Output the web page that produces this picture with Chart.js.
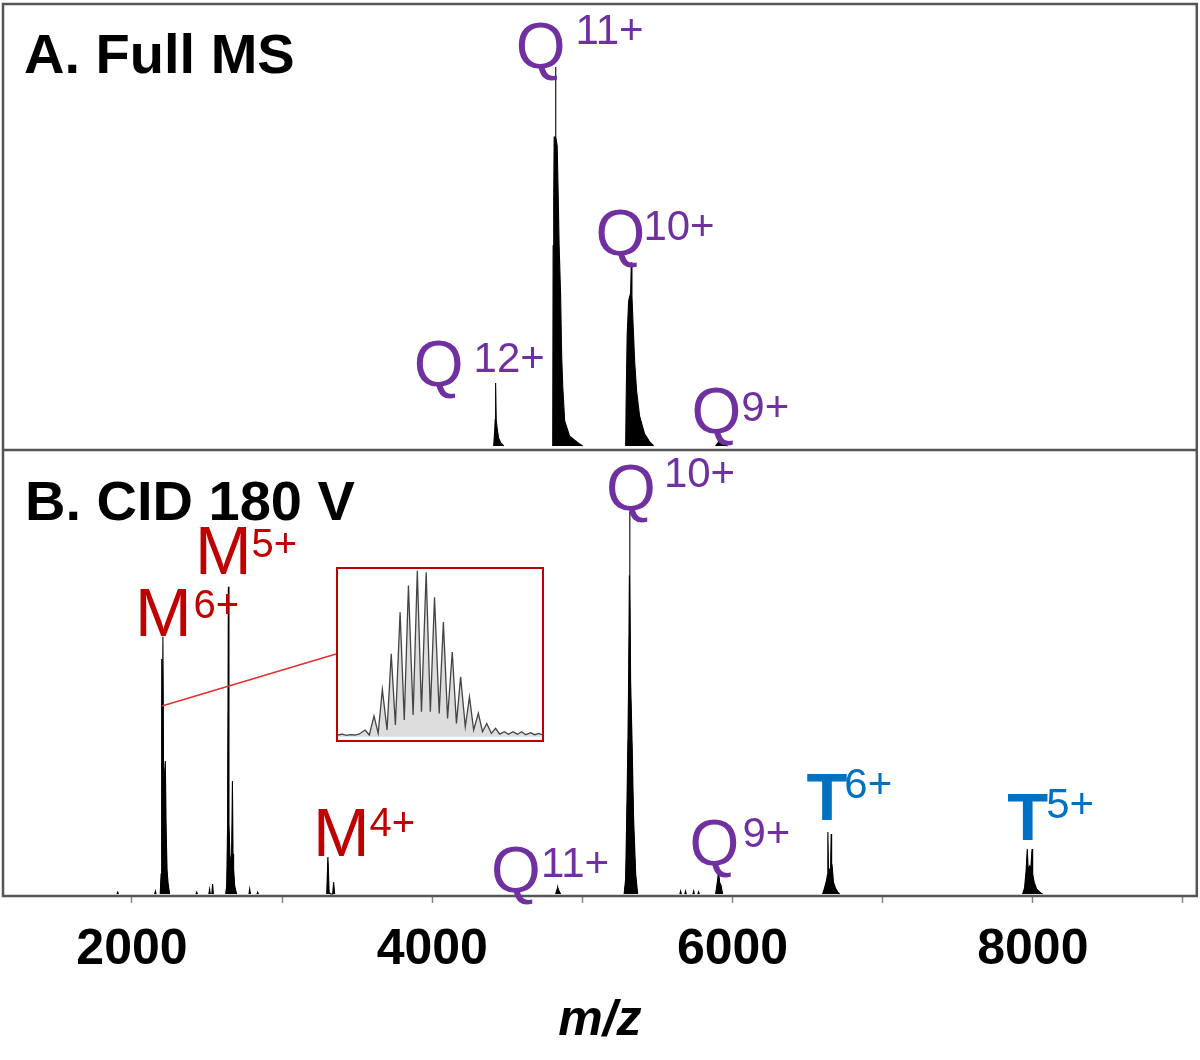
<!DOCTYPE html>
<html>
<head>
<meta charset="utf-8">
<script src="https://cdn.jsdelivr.net/npm/chart.js@4.4.1/dist/chart.umd.min.js"></script>
<style>
  body { margin: 0; background: #fff; }
  #wrap { position: relative; width: 1200px; height: 1060px; }
  #inset { position: absolute; left: 336px; top: 567px; width: 204px; height: 171px;
           border: 2px solid #c00000; background: #fff; }
</style>
</head>
<body>
<div id="wrap">
  <canvas id="ms" width="1200" height="1060"></canvas>
  <div id="inset"><canvas id="iso" width="204" height="171"></canvas></div>
</div>
<script>
// panel A, full MS: [m/z, relative intensity]
const fullQ12 = [[4409,0],[4416,4.0],[4419,6.9],[4422,16.6],[4426,6.9],[4432,4.7],[4442,2.1],[4456,0.8],[4476,0]]
const fullQ11 = [[4802,0],[4805,52.8],[4809,65.7],[4812,81.5],[4821,81.5],[4822,100],[4823,81.5],[4832,79.2],
                 [4839,65.7],[4845,52.8],[4855,39.6],[4862,23.7],[4869,15.8],[4882,6.6],[4915,2.6],[4982,0.5],[5002,0]]
const fullQ10 = [[5288,0],[5291,10.6],[5298,29],[5308,38.3],[5321,40.4],[5326,48.5],[5330,39.6],[5338,31.7],
                 [5348,22.4],[5361,14.5],[5381,7.9],[5414,3.2],[5448,1.1],[5475,0]]
const fullQ9 = [[5887,0],[5901,0.8],[5914,1.6],[5927,1.1],[5947,0.3],[5967,0]]

// panel B, CID 180 V
const cidM6 = [[2188,0],[2194,5.2],[2198,61.5],[2201,31.4],[2206,67.3],[2211,26.2],[2222,34.8],[2228,15.7],[2234,6.0],[2241,2.6],[2251,0]]
const cidM5 = [[2624,0],[2631,2.1],[2637,18.3],[2642,80.4],[2646,18.3],[2654,7.9],[2664,10.5],[2669,29.6],[2673,10.5],[2677,6.5],[2684,2.1],[2697,0]]
const cidM4 = [[3297,0],[3305,9.7],[3313,0.5],[3323,0],[3337,0],[3343,3.1],[3350,0]]
const cidQ11 = [[4822,0],[4832,1.3],[4835,1.8],[4842,1.0],[4855,0]]
const cidQ10 = [[5278,0],[5288,3.9],[5295,19.6],[5303,39.3],[5308,55.8],[5313,83.2],[5315,100],[5317,83.2],
                [5321,55.8],[5331,39.3],[5341,19.6],[5355,5.2],[5368,0]]
const cidQ9 = [[5887,0],[5897,2.6],[5907,5.8],[5914,3.1],[5924,2.1],[5934,0]]
const cidT6 = [[6600,0],[6613,1.6],[6627,3.7],[6632,5],[6635,16.2],[6639,5.8],[6646,6.5],[6653,6],[6657,15.7],
               [6660,6.5],[6664,7.1],[6672,3.1],[6685,1.6],[6700,0.5],[6713,0]]
const cidT5 = [[7932,0],[7945,1.6],[7955,6.0],[7963,11.8],[7969,6.5],[7979,7.3],[7985,5.8],[7995,11.8],
               [7999,5.2],[8009,3.1],[8025,1.3],[8052,0.3],[8065,0]]
// small sticks in panel B
const minorMz = [1905, 2156, 2431, 2517, 2537, 2784, 2837, 5654, 5687, 5741, 5774]
const minorInt = [0.5, 0.8, 0.5, 1.3, 2.6, 1.3, 0.5, 0.8, 0.8, 0.8, 0.6]

// inset: isotope cluster of M6+
const isoMz = [2204.00,2204.17,2204.33,2204.50,2204.67,2204.83,2205.00,2205.17,2205.33,2205.50,2205.67,
               2205.83,2206.00,2206.17,2206.33,2206.50,2206.67,2206.83,2207.00,2207.17,2207.33]
const isoInt = [4,12.5,28.5,50,75,91,100,99,84,69,51,36,24,14,8,5,3,3,3,2.4,2]
const isoValleyMz = [2204.08,2204.25,2204.42,2204.58,2204.75,2204.92,2205.08,2205.25,2205.42,2205.58,
                     2205.75,2205.92,2206.08,2206.25,2206.42,2206.58,2206.75,2206.92,2207.08,2207.25]
const isoValley = [1,2,4,7,10,13,15,15,14,11,8,6,4,3,2,1.5,1.5,1.5,1.2,1.2]
const isoLeadMz = [2203.48,2203.56,2203.64,2203.72,2203.80,2203.88]
const isoLead = [1,1.5,0.8,1.2,1,1.5]
const isoTailMz = [2207.39]
const isoTail = [1.2]

const xTickValues = [2000, 3000, 4000, 5000, 6000, 7000, 8000, 9000]
const xTickLabels = [2000, 4000, 6000, 8000]

const purple = '#7030a0', red = '#c00000', blue = '#0070c0'
const FONT = "'Liberation Sans', Arial, sans-serif"

// label anchors: main letter origin (m/z, intensity); sup offset in px
const peakLabels = [
    {axis:'yA', ion:'Q', z:'12+', mz:3877, at:15.7, dx:10, dy:-14},
    {axis:'yA', ion:'Q', z:'11+', mz:4556, at:99.6, dx:10, dy:-24},
    {axis:'yA', ion:'Q', z:'10+', mz:5088, at:50.5, dx:-2, dy:-15},
    {axis:'yA', ion:'Q', z:'9+', mz:5727, at:3.3, dx:0, dy:-12},
    {axis:'yB', ion:'Q', z:'10+', mz:5158, at:100.6, dx:8, dy:-23},
    {axis:'yB', ion:'Q', z:'11+', mz:4392, at:0.6, dx:0, dy:-15},
    {axis:'yB', ion:'Q', z:'9+', mz:5714, at:7.7, dx:3, dy:-18},
    {axis:'yB', ion:'M', z:'6+', mz:2020, at:67.4, dx:2, dy:-18},
    {axis:'yB', ion:'M', z:'5+', mz:2419, at:83.8, dx:0, dy:-17},
    {axis:'yB', ion:'M', z:'4+', mz:3205, at:10.0, dx:0, dy:-20},
    {axis:'yB', ion:'T', z:'6+', mz:6492, at:19.4, dx:-3, dy:-22},
    {axis:'yB', ion:'T', z:'5+', mz:7830, at:14.1, dx:-2, dy:-22}
]
const ionStyle = {
    Q: {color: purple, font: '64px ' + FONT, sup: '42px ' + FONT},
    M: {color: red, font: '68px ' + FONT, sup: '40px ' + FONT},
    T: {color: blue, font: 'bold 67px ' + FONT, sup: '42px ' + FONT}
}

function joinPeaks(list) {
    const out = []
    list.forEach(function (p, i) {
        if (i) out.push({x: p[0][0], y: null})
        p.forEach(function (pt) { out.push({x: pt[0], y: pt[1]}) })
    })
    return out
}

const minorPeaks = minorMz.map(function (m, i) { return [[m - 5, 0], [m, minorInt[i]], [m + 5, 0]] })

const specStyle = {
    borderColor: '#000', backgroundColor: '#000', borderWidth: 1.1,
    pointRadius: 0, fill: 'origin', tension: 0, spanGaps: false
}

const overlay = {
    id: 'overlay',
    afterDatasetsDraw(chart) {
        const ctx = chart.ctx, a = chart.chartArea, s = chart.scales
        ctx.save()
        // frame and panel divider
        ctx.strokeStyle = '#555'
        ctx.lineWidth = 2.5
        ctx.strokeRect(a.left, a.top, a.right - a.left, a.bottom - a.top)
        ctx.beginPath()
        ctx.moveTo(a.left, s.yA.bottom)
        ctx.lineTo(a.right, s.yA.bottom)
        ctx.stroke()

        // connector to inset
        ctx.strokeStyle = '#e03030'
        ctx.lineWidth = 1.5
        ctx.beginPath()
        ctx.moveTo(s.x.getPixelForValue(2200), s.yB.getPixelForValue(49.2))
        ctx.lineTo(336, 654)
        ctx.stroke()

        // panel titles
        ctx.fillStyle = '#000'
        ctx.font = 'bold 56px ' + FONT
        ctx.textBaseline = 'alphabetic'
        ctx.fillText('A. Full MS', a.left + 21, s.yA.top + 69)
        ctx.fillText('B. CID 180 V', a.left + 22, s.yB.top + 70)

        // peak labels
        peakLabels.forEach(function (l) {
            const st = ionStyle[l.ion]
            const x = s.x.getPixelForValue(l.mz)
            const y = s[l.axis].getPixelForValue(l.at)
            ctx.fillStyle = st.color
            ctx.font = st.font
            ctx.fillText(l.ion, x, y)
            const w = ctx.measureText(l.ion).width
            ctx.font = st.sup
            ctx.fillText(l.z, x + w + l.dx, y + l.dy)
        })
        ctx.restore()
    }
}

new Chart(document.getElementById('ms'), {
    type: 'line',
    data: {
        datasets: [
            Object.assign({data: joinPeaks([fullQ12, fullQ11, fullQ10, fullQ9]), yAxisID: 'yA'}, specStyle),
            Object.assign({data: joinPeaks([cidM6, cidM5, cidM4, cidQ11, cidQ10, cidQ9, cidT6, cidT5].concat(minorPeaks)), yAxisID: 'yB'}, specStyle)
        ]
    },
    options: {
        responsive: false,
        animation: false,
        layout: {padding: {left: 3, right: 3, top: 4, bottom: 16}},
        plugins: {legend: {display: false}, tooltip: {enabled: false}},
        scales: {
            x: {
                type: 'linear', min: 1141, max: 9092,
                afterBuildTicks: function (scale) {
                    scale.ticks = xTickValues.map(function (v) { return {value: v} })
                },
                ticks: {
                    autoSkip: false, maxRotation: 0, padding: 17, color: '#000',
                    font: {family: FONT, size: 50, weight: 'bold'},
                    callback: function (v) { return xTickLabels.includes(v) ? String(v) : '' }
                },
                grid: {drawOnChartArea: false, drawTicks: true, tickLength: 7, tickColor: '#888', tickWidth: 1.5},
                border: {display: false},
                title: {display: true, text: 'm/z', color: '#000', padding: {top: 2, bottom: 0},
                        font: {family: FONT, size: 50, weight: 'bold', style: 'italic', lineHeight: 0.9}}
            },
            yA: {type: 'linear', position: 'left', stack: 'ms', stackWeight: 1, weight: 2,
                 min: -1.06, max: 116.6, display: false},
            yB: {type: 'linear', position: 'left', stack: 'ms', stackWeight: 1, weight: 1,
                 min: -0.52, max: 116.2, display: false}
        }
    },
    plugins: [overlay]
})

// inset chart
const isoData = []
isoLeadMz.forEach(function (m, i) { isoData.push({x: m, y: isoLead[i]}) })
isoMz.forEach(function (m, i) {
    isoData.push({x: m, y: isoInt[i]})
    if (i < isoValley.length) isoData.push({x: isoValleyMz[i], y: isoValley[i]})
})
isoTailMz.forEach(function (m, i) { isoData.push({x: m, y: isoTail[i]}) })

new Chart(document.getElementById('iso'), {
    type: 'line',
    data: {datasets: [{data: isoData, borderColor: '#444', backgroundColor: 'rgba(120,120,120,0.25)',
                       borderWidth: 1.3, pointRadius: 0, fill: 'origin', tension: 0}]},
    options: {
        responsive: false,
        animation: false,
        layout: {padding: 0},
        plugins: {legend: {display: false}, tooltip: {enabled: false}},
        scales: {
            x: {type: 'linear', min: 2203.48, max: 2207.39, display: false},
            y: {type: 'linear', min: -2, max: 101, display: false}
        }
    }
})
</script>
</body>
</html>
